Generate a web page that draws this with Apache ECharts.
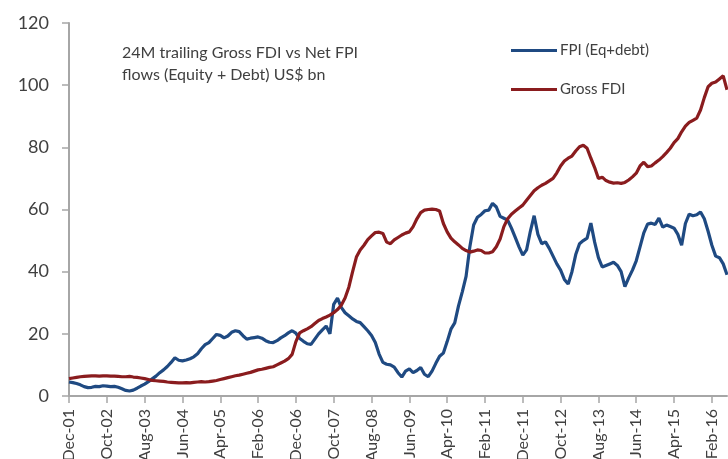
<!DOCTYPE html>
<html>
<head>
<meta charset="utf-8">
<script src="https://cdn.jsdelivr.net/npm/echarts@6/dist/echarts.min.js"></script>
<style>
html,body{margin:0;padding:0;background:#fff;}
#chart{width:728px;height:459px;}
</style>
</head>
<body>
<div id="chart"></div>
<script>
// Monthly categories Dec-01 .. Jun-16
const monthNames = ['Jan','Feb','Mar','Apr','May','Jun','Jul','Aug','Sep','Oct','Nov','Dec'];
const startYear = 2001, startMonth = 11, monthCount = 175;
const categories = [];
for (let i = 0; i < monthCount; i++) {
  const m = (startMonth + i) % 12;
  const y = startYear + Math.floor((startMonth + i) / 12);
  categories.push(monthNames[m] + '-' + String(y % 100).padStart(2, '0'));
}

const yTicks = [0, 20, 40, 60, 80, 100, 120];

const titleLines = ['24M trailing Gross FDI vs Net FPI', 'flows (Equity + Debt) US$ bn'];
const seriesNames = ['FPI (Eq+debt)', 'Gross FDI'];

const fpi = [
  4.5,4.3,4.0,3.6,3.0,2.7,2.8,3.1,3.0,3.3,
  3.2,3.0,3.1,2.8,2.3,1.8,1.6,1.9,2.5,3.2,
  3.8,4.6,5.5,6.4,7.5,8.4,9.5,10.8,12.3,11.5,
  11.3,11.6,12.0,12.6,13.6,15.2,16.5,17.2,18.5,19.8,
  19.5,18.7,19.3,20.5,21.0,20.7,19.4,18.3,18.6,18.8,
  19.0,18.6,17.8,17.3,17.2,17.8,18.7,19.4,20.3,21.0,
  20.2,18.5,17.6,16.8,16.6,18.3,20.0,21.3,22.5,20.0,
  29.5,31.5,28.5,26.8,25.8,24.8,24.0,23.6,22.3,21.0,
  19.5,17.2,13.5,10.8,10.2,10.0,9.3,7.5,6.1,8.0,
  8.7,7.5,8.2,9.2,7.0,6.2,8.0,10.5,12.8,13.8,
  17.5,21.5,23.5,29.0,33.5,38.5,48.0,55.0,57.5,58.4,
  59.6,59.8,62.0,60.8,57.8,57.2,56.6,54.0,51.0,48.0,
  45.3,47.0,53.0,58.0,52.0,49.0,49.6,47.5,45.0,42.5,
  40.5,37.5,36.0,40.0,45.5,49.0,50.0,50.8,55.6,49.5,
  44.5,41.5,42.0,42.5,43.0,42.0,40.0,35.2,38.0,40.5,
  43.5,48.0,52.5,55.3,55.6,55.2,57.2,54.3,55.0,54.5,
  54.0,52.0,48.5,55.5,58.5,58.0,58.3,59.2,57.0,53.0,
  48.5,45.0,44.5,42.5,39.0
];

const grossFdi = [
  5.6,5.8,6.0,6.2,6.3,6.4,6.5,6.5,6.4,6.5,
  6.5,6.4,6.4,6.3,6.2,6.2,6.3,6.1,6.0,5.8,
  5.6,5.3,5.0,4.9,4.8,4.7,4.5,4.4,4.3,4.2,
  4.2,4.3,4.2,4.4,4.5,4.6,4.5,4.6,4.8,5.0,
  5.3,5.6,5.9,6.2,6.5,6.7,7.0,7.3,7.6,8.0,
  8.4,8.6,8.9,9.2,9.4,10.0,10.6,11.2,12.0,13.4,
  17.5,20.3,21.0,21.6,22.3,23.3,24.3,24.9,25.4,26.0,
  26.8,27.8,29.2,31.5,35.0,40.0,44.7,47.0,48.5,50.3,
  51.5,52.6,52.7,52.3,49.5,49.0,50.2,51.0,51.8,52.4,
  52.8,54.5,57.0,59.0,59.8,60.0,60.1,60.0,59.5,55.5,
  52.8,50.8,49.6,48.6,47.5,46.8,46.3,46.6,47.0,46.8,
  46.0,46.0,46.4,48.0,50.5,54.5,57.0,58.5,59.5,60.5,
  61.4,63.0,64.5,66.0,67.0,67.8,68.4,69.2,70.0,71.8,
  74.0,75.6,76.5,77.2,78.8,80.2,80.7,79.7,76.5,73.5,
  70.0,70.4,69.3,68.8,68.5,68.6,68.4,68.7,69.5,70.5,
  71.7,74.0,75.2,73.8,74.0,75.0,75.9,77.0,78.3,79.7,
  81.5,82.8,85.0,86.8,88.0,88.7,89.4,92.0,96.0,99.5,
  100.6,101.0,102.0,103.0,98.5
];

const FONT = 'Lato, "Open Sans", sans-serif';
const AXIS_GRAY = '#A6A6A6';
const TEXT = '#404040';

const chart = echarts.init(document.getElementById('chart'), null, {renderer: 'canvas'});
chart.setOption({
  backgroundColor: '#ffffff',
  animation: false,
  title: {
    text: titleLines.join('\n'),
    left: 117,
    top: 37,
    textStyle: {fontFamily: FONT, fontSize: 16, fontWeight: 'normal', color: TEXT, lineHeight: 22}
  },
  legend: {
    orient: 'vertical',
    left: 506,
    top: 38,
    itemWidth: 46,
    itemHeight: 3,
    itemGap: 24,
    icon: 'rect',
    data: seriesNames,
    textStyle: {fontFamily: FONT, fontSize: 15, color: TEXT, padding: [0, 0, 0, -2]}
  },
  grid: {left: 69, right: 1, top: 23, bottom: 63, containLabel: false, outerBoundsMode: 'none'},
  xAxis: {
    type: 'category',
    data: categories,
    boundaryGap: false,
    axisLine: {lineStyle: {color: AXIS_GRAY, width: 2}},
    axisTick: {show: true, interval: 9, length: 7, lineStyle: {color: AXIS_GRAY, width: 1.5}},
    axisLabel: {interval: 9, rotate: 90, margin: 13, fontFamily: FONT, fontSize: 16, color: TEXT},
    splitLine: {show: false}
  },
  yAxis: {
    type: 'value',
    min: yTicks[0],
    max: yTicks[yTicks.length - 1],
    interval: 20,
    axisLine: {show: true, lineStyle: {color: AXIS_GRAY, width: 2}},
    axisTick: {show: true, length: 7, lineStyle: {color: AXIS_GRAY, width: 1.5}},
    axisLabel: {margin: 20, fontFamily: FONT, fontSize: 18, color: TEXT},
    splitLine: {show: false}
  },
  series: [
    {
      name: seriesNames[0],
      type: 'line',
      data: fpi,
      symbol: 'none',
      smooth: false,
      itemStyle: {color: '#1F4A82'},
      lineStyle: {color: '#1F4A82', width: 3.2}
    },
    {
      name: seriesNames[1],
      type: 'line',
      data: grossFdi,
      symbol: 'none',
      smooth: false,
      itemStyle: {color: '#8A1C1E'},
      lineStyle: {color: '#8A1C1E', width: 3.2}
    }
  ]
});
</script>
</body>
</html>
